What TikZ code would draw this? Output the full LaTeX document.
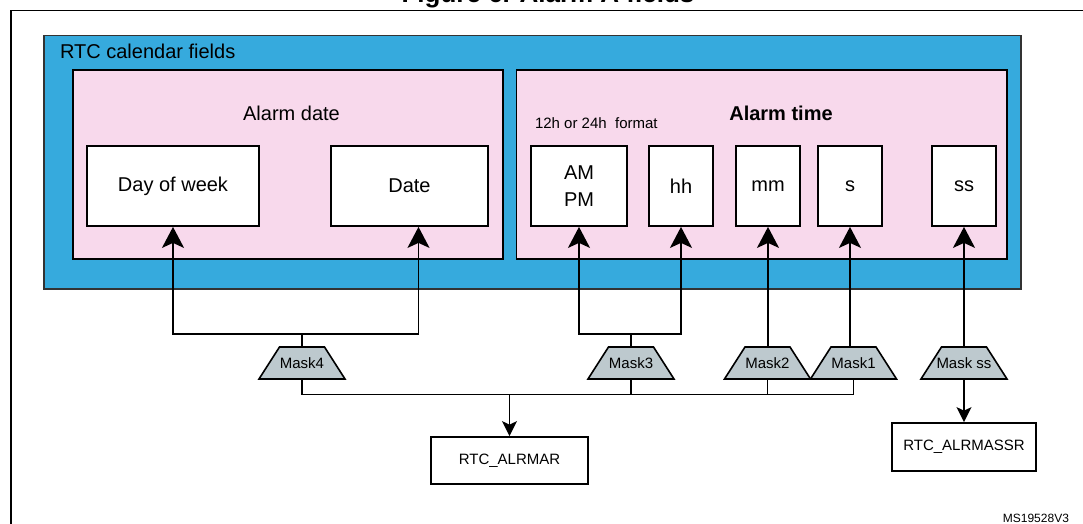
\documentclass[tikz,border=0pt]{standalone}
\usepackage{fontspec}
\setmainfont{Liberation Sans}
\usetikzlibrary{arrows.meta}

\definecolor{rtcblue}{HTML}{36AADD}
\definecolor{alarmpink}{HTML}{F8D9EC}
\definecolor{maskgray}{HTML}{BDC9CE}

\tikzset{
  fieldbox/.style={draw, fill=white, line width=0.9pt, minimum height=40pt,
    inner sep=0pt, align=center, font=\fontsize{10}{13.3}\selectfont},
  masklabel/.style={minimum height=16pt, minimum width=43pt, inner sep=0pt,
    font=\fontsize{7.5}{9}\selectfont},
  maskshape/.style={draw, fill=maskgray, line width=0.8pt, line join=miter},
  regbox/.style={draw, fill=white, line width=0.9pt, inner sep=0pt,
    font=\fontsize{7.5}{9}\selectfont},
  uparr/.style={-{Stealth[length=10.5pt,width=11pt,inset=2.5pt]}, line width=0.9pt},
  downarr/.style={-{Stealth[length=7.5pt,width=7.5pt,inset=1.8pt]}, line width=0.9pt},
  wire/.style={line width=0.9pt}
}

\begin{document}
\begin{tikzpicture}[x=0.5pt,y=-0.5pt]
\useasboundingbox (0,0) rectangle (1083,524);

% frame and title
\node[anchor=base, font=\bfseries\fontsize{13}{15}\selectfont] (title) at (548,2.5) {Figure 6. Alarm A fields};
\draw[line width=0.8pt] (11,524) -- (11,10.5) -- (1083,10.5);

% calendar fields
\draw[fill=rtcblue, draw=black!80, line width=0.6pt] (44,35.5) rectangle (1021,289);
\node[anchor=base west] (cal) at (53,59) {RTC calendar fields};

\draw[fill=alarmpink, line width=0.9pt] (73,70) rectangle (503,259);
\draw[fill=alarmpink, line width=0.9pt] (516.5,70) rectangle (1007,259);

\node[anchor=base] (adate) at (291.5,121) {Alarm date};
\node[anchor=base, font=\bfseries] (atime) at (781,121) {Alarm time};
\node[anchor=base west, font=\fontsize{7.5}{9}\selectfont] (fmt) at (528,128.5) {12h or 24h\ \ format};

% field boxes
\node[fieldbox, minimum width=86pt] (dow) at (173,186) {Day of week};
\node[fieldbox, minimum width=78.5pt] (date) at (409.5,186) {Date};
\node[fieldbox, minimum width=48pt] (ampm) at (579,186) {AM\\PM};
\node[fieldbox, minimum width=32pt] (hh) at (681,186) {hh};
\node[fieldbox, minimum width=32pt] (mm) at (768,186) {mm};
\node[fieldbox, minimum width=32pt] (s) at (850,186) {s};
\node[fieldbox, minimum width=32pt] (ss) at (964,186) {ss};

% masks
\draw[maskshape] (259,379) -- (345,379) -- (324.5,347) -- (279.5,347) -- cycle;
\node[masklabel] (m4) at (302,363) {Mask4};
\draw[maskshape] (588,379) -- (674,379) -- (653.5,347) -- (608.5,347) -- cycle;
\node[masklabel] (m3) at (631,363) {Mask3};
\draw[maskshape] (724.5,379) -- (810.5,379) -- (790,347) -- (745,347) -- cycle;
\node[masklabel] (m2) at (767.5,363) {Mask2};
\draw[maskshape] (810.5,379) -- (896.5,379) -- (876,347) -- (831,347) -- cycle;
\node[masklabel] (m1) at (853.5,363) {Mask1};
\draw[maskshape] (921,379) -- (1007,379) -- (986.5,347) -- (941.5,347) -- cycle;
\node[masklabel] (mss) at (964,363) {Mask ss};

% registers
\node[regbox, minimum width=78.5pt, minimum height=23.5pt] (alrmar) at (509.5,460.5) {RTC\_ALRMAR};
\node[regbox, minimum width=72pt, minimum height=24pt] (alrmassr) at (964,447) {RTC\_ALRMASSR};

\node[anchor=base east, font=\fontsize{6}{7}\selectfont] (ref) at (1076,522.5) {MS19528V3};

% connectors
\draw[uparr] (m4.north) -- ++(0,-13) -| (dow.south);
\draw[uparr] (m4.north) -- ++(0,-13) -| ([xshift=4.5pt]date.south);
\draw[uparr] (m3.north) -- ++(0,-13) -| (ampm.south);
\draw[uparr] (m3.north) -- ++(0,-13) -| (hh.south);
\draw[uparr] (m2.north) -- (m2.north -| mm.south) -- (mm.south);
\draw[uparr] (m1.north) -- (m1.north -| s.south) -- (s.south);
\draw[uparr] (mss.north) -- (ss.south);

\coordinate (bus) at (509.5,394);
\draw[wire] (m4.south) -- ++(0,15) -| (m1.south);
\draw[wire] (m3.south) -- (m3.south |- bus);
\draw[wire] (m2.south) -- (m2.south |- bus);
\draw[downarr] (bus) -- (alrmar.north);
\draw[downarr] (mss.south) -- (alrmassr.north);
\end{tikzpicture}
\end{document}
